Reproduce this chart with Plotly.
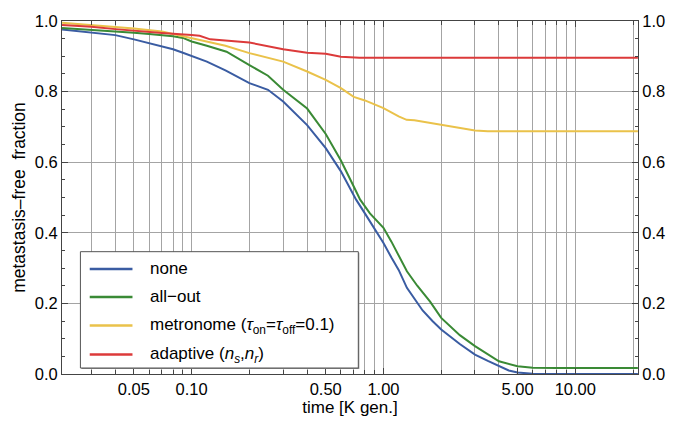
import plotly.graph_objects as go

# ---------------- data ----------------
t_none = [0.0211, 0.03, 0.04, 0.05, 0.06, 0.07, 0.08, 0.09, 0.1, 0.12, 0.15, 0.2, 0.25,
          0.3, 0.4, 0.5, 0.6, 0.7, 0.72, 0.8, 0.9, 1.0, 1.1, 1.2, 1.325, 1.4, 1.5, 1.6,
          1.8, 2.0, 2.5, 3.0, 3.5, 4.0, 4.5, 5.0, 6.0, 8.0, 21.2]
y_none = [0.976, 0.967, 0.960, 0.948, 0.937, 0.928, 0.920, 0.910, 0.901, 0.885, 0.860,
          0.824, 0.805, 0.772, 0.705, 0.640, 0.574, 0.510, 0.494, 0.455, 0.410, 0.371,
          0.330, 0.295, 0.244, 0.225, 0.200, 0.180, 0.150, 0.126, 0.085, 0.055, 0.037,
          0.022, 0.010, 0.004, 0.001, 0.0, 0.0]

t_allout = [0.0211, 0.03, 0.04, 0.05, 0.06, 0.07, 0.08, 0.09, 0.1, 0.12, 0.152, 0.2, 0.25,
            0.3, 0.4, 0.5, 0.6, 0.7, 0.756, 0.85, 1.0, 1.1, 1.2, 1.325, 1.5, 1.75, 2.0,
            2.5, 3.0, 3.5, 4.0, 5.0, 6.0, 8.0, 21.2]
y_allout = [0.980, 0.975, 0.970, 0.967, 0.963, 0.960, 0.957, 0.952, 0.942, 0.930, 0.913,
            0.875, 0.845, 0.805, 0.752, 0.680, 0.605, 0.531, 0.494, 0.455, 0.414, 0.375,
            0.335, 0.291, 0.250, 0.205, 0.159, 0.110, 0.079, 0.055, 0.036, 0.022, 0.0175,
            0.017, 0.017]

t_metro = [0.0211, 0.03, 0.04, 0.05, 0.07, 0.1, 0.15, 0.2, 0.3, 0.4, 0.5, 0.6, 0.7, 0.8,
           1.0, 1.2, 1.32, 1.45, 2.0, 2.5, 3.0, 3.5, 21.2]
y_metro = [0.995, 0.989, 0.984, 0.979, 0.970, 0.951, 0.930, 0.909, 0.885, 0.857, 0.833,
           0.810, 0.785, 0.775, 0.753, 0.730, 0.720, 0.719, 0.706, 0.697, 0.690, 0.688,
           0.688]

t_adapt = [0.0211, 0.03, 0.04, 0.05, 0.07, 0.1, 0.11, 0.125, 0.2, 0.3, 0.4, 0.5, 0.6,
           0.75, 21.2]
y_adapt = [0.989, 0.984, 0.977, 0.972, 0.966, 0.960, 0.958, 0.948, 0.939, 0.920, 0.910,
           0.907, 0.899, 0.896, 0.896]

series_names = ["none", "all\u2212out",
                "metronome (<i>\u03c4</i><sub>on</sub>=<i>\u03c4</i><sub>off</sub>=0.1)",
                "adaptive (<i>n<sub>s</sub></i>,<i>n<sub>r</sub></i>)"]
series_colors = ["#3a5ca2", "#3a8a35", "#eac24a", "#dc3a3a"]

x_major = [0.05, 0.1, 0.5, 1, 5, 10]
x_major_text = ["0.05", "0.10", "0.50", "1.00", "5.00", "10.00"]
x_minor = [m * d for d in (0.01, 0.1, 1, 10) for m in range(1, 10)]

# ---------------- layout geometry (window pixels) ----------------
# the page body has an 8px margin, so the figure is drawn 8px right/down
OFF = 8
W, H = 680 - OFF, 422 - OFF
PL, PR, PT, PB = 62.3, 637.7, 21.0, 374.5          # plot area in window pixels
L, R, T, B = PL - OFF, W - (PR - OFF), PT - OFF, H - (PB - OFF)
PW, PH = W - L - R, H - T - B


def px(x):
    return (x - OFF - L) / PW


def py(y):
    return (H - B - (y - OFF)) / PH


FONT = "Liberation Sans, Arial, Helvetica, sans-serif"
fig = go.Figure()
for t, y, c, n in zip([t_none, t_allout, t_metro, t_adapt],
                      [y_none, y_allout, y_metro, y_adapt], series_colors, series_names):
    fig.add_trace(go.Scatter(x=t, y=y, mode="lines", name=n, showlegend=False,
                             line=dict(color=c, width=2)))
# trace bound to the right-hand mirror axis so it is drawn
fig.add_trace(go.Scatter(x=[None], y=[None], yaxis="y2", showlegend=False,
                         hoverinfo="skip"))

axis_col = "#444444"
grid_col = "#a4a4a4"
fig.update_layout(
    template="none",
    width=W, height=H,
    margin=dict(l=L, r=R, t=T, b=B, autoexpand=False),
    paper_bgcolor="white", plot_bgcolor="white",
    font=dict(family=FONT, size=16.5, color="black"),
    showlegend=False,
    xaxis=dict(type="log", range=[-1.676, 1.327], tickmode="array", tickvals=x_major,
               ticktext=x_major_text, ticks="inside", ticklen=6, tickcolor=axis_col,
               showline=True, linecolor=axis_col, linewidth=1, mirror="ticks",
               showgrid=True, gridcolor=grid_col, gridwidth=1, zeroline=False,
               automargin=False,
               minor=dict(tickmode="array", tickvals=x_minor, ticks="inside", ticklen=4,
                          tickcolor=axis_col, showgrid=True, gridcolor=grid_col,
                          gridwidth=1),
               title=dict(text="time [K gen.]", font=dict(size=17), standoff=4)),
    yaxis=dict(range=[0, 1], dtick=0.2, tickformat=".1f", ticks="inside", ticklen=6,
               tickcolor=axis_col, showline=True, linecolor=axis_col, linewidth=1,
               showgrid=True, gridcolor=grid_col, gridwidth=1, zeroline=False,
               automargin=False,
               minor=dict(dtick=0.05, ticks="inside", ticklen=3, tickcolor=axis_col,
                          showgrid=False),
               title=dict(text="metastasis\u2013free\u00a0\u00a0fraction",
                          font=dict(size=17.5), standoff=4)),
    yaxis2=dict(range=[0, 1], overlaying="y", side="right", dtick=0.2, tickformat=".1f",
                ticks="inside", ticklen=6, tickcolor=axis_col, showline=True,
                linecolor=axis_col, linewidth=1, showgrid=False, zeroline=False,
                automargin=False,
                minor=dict(dtick=0.05, ticks="inside", ticklen=3, tickcolor=axis_col)),
)

# ---------------- legend box drawn in paper coordinates ----------------
box = dict(x0=80.7, x1=358.3, y0=252, y1=368.5)
fig.add_shape(type="rect", xref="paper", yref="paper",
              x0=px(box["x0"] + 1), x1=px(box["x1"] + 1),
              y0=py(box["y1"] + 1), y1=py(box["y0"] + 1),
              line=dict(width=0), fillcolor="#8a8a8a", layer="above")
fig.add_shape(type="rect", xref="paper", yref="paper",
              x0=px(box["x0"]), x1=px(box["x1"]), y0=py(box["y1"]), y1=py(box["y0"]),
              line=dict(color="#555555", width=1), fillcolor="white", layer="above")
rows = [269.3, 297.3, 326.0, 355.0]
for yy, c, n in zip(rows, series_colors, series_names):
    fig.add_shape(type="line", xref="paper", yref="paper", x0=px(90), x1=px(132.7),
                  y0=py(yy), y1=py(yy), line=dict(color=c, width=2.5), layer="above")
    fig.add_annotation(xref="paper", yref="paper", x=px(148), y=py(yy), text=n,
                       showarrow=False, xanchor="left", yanchor="middle",
                       font=dict(size=17, family=FONT, color="black"))

fig.write_html("out.html")
